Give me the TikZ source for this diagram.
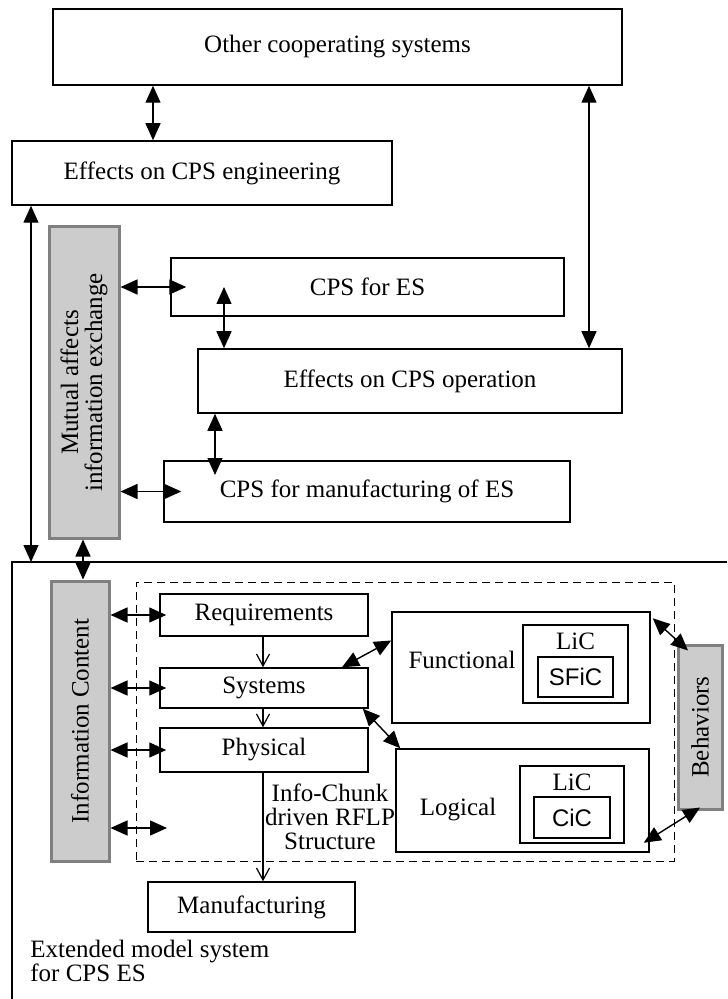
\documentclass[tikz,border=0pt]{standalone}
\usepackage{fontspec}
\setmainfont{Liberation Serif}
\setsansfont{Liberation Sans}
\usetikzlibrary{arrows.meta}

\begin{document}
\begin{tikzpicture}[x=0.5pt, y=-0.5pt,
    every node/.style={font=\fontsize{12.5}{12}\selectfont},
    box/.style={draw, line width=0.75pt, inner sep=0pt, align=center},
    greybox/.style={draw=black!50, fill=black!20, line width=1.5pt, inner sep=0pt, align=center},
    sansbox/.style={box, font=\sffamily\fontsize{12}{12}\selectfont},
    dbl/.style={line width=0.7pt, {Triangle[length=8.5pt,width=7.5pt]}-{Triangle[length=8.5pt,width=7.5pt]}},
    flow/.style={line width=0.6pt, -{Straight Barb[length=6pt,width=6.5pt]}}]

\useasboundingbox (0,0) rectangle (727,999);

% Upper part
    \node[box, minimum width=284.5pt, minimum height=38pt] (other) at (337.5,47) {Other cooperating systems};
    \node[box, minimum width=190pt, minimum height=32pt] (effeng) at (202,173) {Effects on CPS engineering};
    \node[greybox, rotate=90, minimum width=155.5pt, minimum height=35pt] (mutual) at (84,382.5) {Mutual affects\\information exchange};
    \node[box, minimum width=196.5pt, minimum height=29pt] (cpses) at (367.5,287) {CPS for ES};
    \node[box, minimum width=212pt, minimum height=32pt] (effop) at (410,381) {Effects on CPS operation};
    \node[box, minimum width=203pt, minimum height=30.5pt] (cpsman) at (367,491.5) {CPS for manufacturing of ES};

    % Frame of the extended model system
    \draw[line width=0.75pt] (12,999) -- (12,562) -- (727,562);
    \coordinate (frametop) at (31,562);
    \node[anchor=west, inner sep=0pt, align=left] (extlab) at (30,961) {Extended model system\\for CPS ES};

% Lower part
    \node[greybox, rotate=90, minimum width=140pt, minimum height=29pt] (info) at (80,721) {Information Content};
    \node[draw, line width=0.5pt, dash pattern=on 4pt off 2.5pt, minimum width=269pt, minimum height=139.5pt] (rflp) at (405,721.5) {};
    \node[greybox, rotate=90, minimum width=82pt, minimum height=22pt] (behav) at (700,727) {Behaviors};

    \node[box, minimum width=104pt, minimum height=21pt] (req) at (264,615) {Requirements};
    \node[box, minimum width=104pt, minimum height=20pt] (sys) at (264,688) {Systems};
    \node[box, minimum width=104pt, minimum height=22pt] (phys) at (264,750) {Physical};
    \node[box, minimum width=103.5pt, minimum height=25pt] (manuf) at (251.5,907) {Manufacturing};
    \node[align=center] (rflplab) at (330,817) {Info-Chunk\\driven RFLP\\Structure};

    % Functional and logical
    \node[box, minimum width=129pt, minimum height=55.5pt] (func) at (521,667.5) {};
    \node (funclab) at (462,660) {Functional};
    \node[box, minimum width=52.5pt, minimum height=39pt] (flic) at (575.5,664) {};
    \node (fliclab) at (575.5,641) {LiC};
    \node[sansbox, minimum width=37.5pt, minimum height=20pt] (sfic) at (575.5,677) {SFiC};

    \node[box, minimum width=126.5pt, minimum height=51.5pt] (logic) at (522.5,800.5) {};
    \node (logiclab) at (458,810) {Logical};
    \node[box, minimum width=52pt, minimum height=38.5pt] (llic) at (572,804.5) {};
    \node (lliclab) at (572,782) {LiC};
    \node[sansbox, minimum width=38pt, minimum height=20.5pt] (cic) at (572,817.5) {CiC};

% Arrows
    \draw[dbl] (other.south -| 153,0) -- (effeng.north -| 153,0);
    \draw[dbl] (other.south -| 589,0) -- (effop.north -| 589,0);
    \draw[dbl] (effeng.south -| frametop) -- (frametop);
    \draw[dbl] (mutual.south |- cpses.west) -- ([xshift=8pt]cpses.west);
    \draw[dbl] (mutual.south |- cpsman.west) -- ([xshift=9pt]cpsman.west);
    \draw[dbl] (cpses.center -| 224,0) -- (effop.north -| 224,0);
    \coordinate (mantip) at (215,475);
    \draw[dbl] (effop.south -| mantip) -- (mantip);
    \draw[dbl] (mutual.west -| 83,0) -- (info.east -| 83,0);

    \draw[dbl] (info.south |- req.west) -- ([xshift=3.5pt]req.west);
    \draw[dbl] (info.south |- sys.west) -- ([xshift=3.5pt]sys.west);
    \draw[dbl] (info.south |- phys.west) -- ([xshift=3.5pt]phys.west);
    \coordinate (spare) at (167,828);
    \draw[dbl] (info.south |- spare) -- (spare);

    \draw[flow] (req.south -| 263,0) -- (sys.north -| 263,0);
    \draw[flow] (sys.south -| 263,0) -- (phys.north -| 263,0);
    \draw[flow] (phys.south -| 263,0) -- (manuf.north -| 263,0);

    \draw[dbl] (sys.north -| 342,0) -- ([yshift=13.5pt]func.west);
    \draw[dbl] ([xshift=-3pt]sys.south east) -- ([xshift=2.5pt]logic.north west);
    \draw[dbl] ([xshift=1pt,yshift=-3.5pt]func.north east) -- ([xshift=-6pt,yshift=-3.5pt]behav.east);
    \draw[dbl] ([yshift=1.5pt]behav.west) -- ([xshift=-3pt,yshift=5pt]logic.south east);
\end{tikzpicture}
\end{document}
